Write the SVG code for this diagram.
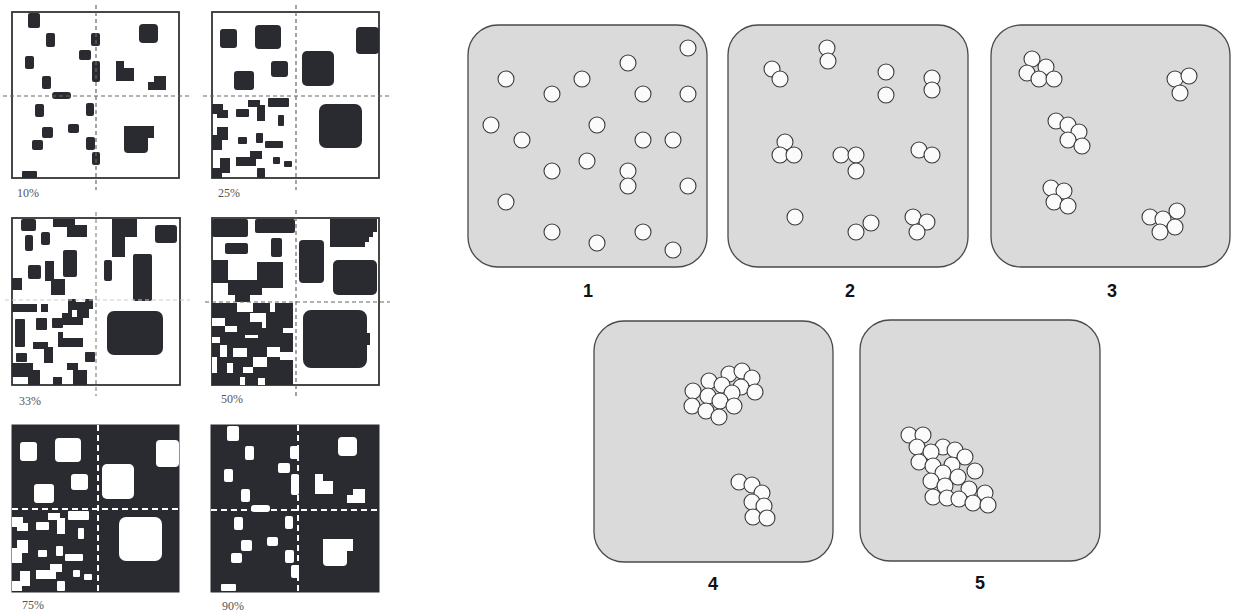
<svg xmlns="http://www.w3.org/2000/svg" width="1233" height="613" viewBox="0 0 1233 613">
<style>
.box{fill:#fff;stroke:#333;stroke-width:1.8}
.dbox{fill:#2a2b31;stroke:#2a2b31;stroke-width:1}
.dash{stroke:#666;stroke-width:1.2;stroke-dasharray:4 3;fill:none}
.wdash{stroke:#fff;stroke-width:2;stroke-dasharray:6 4;fill:none}
.pct{font-family:"Liberation Serif",serif;font-size:12px;fill:#555}
.p{fill:#dadada;stroke:#4a4a4a;stroke-width:1.3}
.c{fill:#fbfbfb;stroke:#3a3a3a;stroke-width:1.1}
.num{font-family:"Liberation Sans",Arial,sans-serif;font-weight:bold;font-size:18px;fill:#111;text-anchor:middle}
</style>
<defs>
<g id="s10">
<rect x="28" y="13" width="12" height="15" rx="2"/>
<rect x="46" y="33" width="9" height="14" rx="2"/>
<rect x="91" y="33" width="9" height="13" rx="2"/>
<rect x="139" y="24" width="19" height="19" rx="4"/>
<rect x="79" y="50" width="12" height="10" rx="2"/>
<rect x="25" y="56" width="9" height="13" rx="2"/>
<rect x="92" y="61" width="8" height="21" rx="2"/>
<path d="M116 61h8v7h10v13h-18z"/>
<rect x="42" y="76" width="9" height="13" rx="2"/>
<path d="M154 76h12v14h-18v-8h6z"/>
<rect x="52" y="92" width="19" height="7" rx="3"/>
<rect x="35" y="104" width="9" height="13" rx="2"/>
<rect x="86" y="103" width="8" height="13" rx="2"/>
<rect x="68" y="124" width="11" height="9" rx="2"/>
<rect x="42" y="127" width="11" height="11" rx="2"/>
<rect x="32" y="140" width="11" height="10" rx="2"/>
<rect x="86" y="137" width="9" height="13" rx="2"/>
<path d="M124 126h30v12h-6v11a4 4 0 0 1-4 4h-16a4 4 0 0 1-4-4z"/>
<rect x="92" y="152" width="8" height="13" rx="2"/>
<rect x="22" y="171" width="15" height="7" rx="1"/>
</g>
<g id="s25">
<rect x="220" y="29" width="17" height="19" rx="3"/>
<rect x="255" y="25" width="26" height="24" rx="4"/>
<rect x="356" y="27" width="23" height="27" rx="4"/>
<rect x="302" y="51" width="32" height="35" rx="5"/>
<rect x="271" y="61" width="17" height="16" rx="3"/>
<rect x="234" y="71" width="20" height="19" rx="3"/>
<rect x="319" y="104" width="43" height="44" rx="7"/>
<path d="M212 104h11v6h5v8h-11v-4h-5z"/>
<rect x="236" y="109" width="13" height="8" rx="1"/>
<path d="M248 100h12v5h5v16h-8v-14h-9z"/>
<rect x="268" y="98" width="21" height="9" rx="1"/>
<rect x="278" y="115" width="6" height="11" rx="1"/>
<path d="M217 127h11v13h-6v10h-10v-15h5z"/>
<rect x="238" y="137" width="9" height="7" rx="1"/>
<rect x="256" y="133" width="7" height="10" rx="1"/>
<rect x="265" y="141" width="18" height="7" rx="1"/>
<path d="M250 151h12v8h-6v7h-20v-9h14z"/>
<rect x="273" y="157" width="7" height="7" rx="1"/>
<rect x="284" y="161" width="8" height="6" rx="1"/>
<path d="M220 158h10v15h-8v5h-10v-10h8z"/>
<rect x="257" y="168" width="8" height="10" rx="1"/>
</g>
</defs>

<g id="panel-10">
<rect class="box" x="12" y="12" width="167" height="166"/>
<use href="#s10" fill="#2a2b31"/>
<line class="dash" x1="96" y1="5" x2="96" y2="190"/>
<line class="dash" x1="3" y1="96" x2="190" y2="96"/>
<text class="pct" x="17" y="197">10%</text>
</g>

<g id="panel-25">
<rect class="box" x="212" y="12" width="167" height="166"/>
<use href="#s25" fill="#2a2b31"/>
<line class="dash" x1="296" y1="5" x2="296" y2="190"/>
<line class="dash" x1="203" y1="96" x2="390" y2="96"/>
<text class="pct" x="218" y="197">25%</text>
</g>

<g id="panel-33">
<rect class="box" x="12" y="218" width="168" height="167"/>
<g fill="#2a2b31">
<rect x="21" y="219" width="15" height="12" rx="2"/>
<path d="M53 219h22v6h12v12h-20v-10h-14z"/>
<rect x="25" y="235" width="8" height="16" rx="2"/>
<rect x="41" y="232" width="9" height="13" rx="2"/>
<rect x="63" y="250" width="14" height="27" rx="2"/>
<rect x="28" y="265" width="13" height="14" rx="2"/>
<path d="M45 261h9v18h11v16h-14v-14h-6z"/>
<rect x="12" y="278" width="10" height="12"/>
<path d="M112 219h25v18h-12v20h-13z"/>
<rect x="155" y="225" width="22" height="18" rx="3"/>
<rect x="104" y="260" width="8" height="21" rx="2"/>
<rect x="133" y="254" width="19" height="47" rx="2"/>
<rect x="107" y="311" width="56" height="44" rx="7"/>
<rect x="12" y="304" width="25" height="8"/>
<rect x="41" y="304" width="7" height="8"/>
<rect x="15" y="319" width="10" height="28" rx="1"/>
<rect x="36" y="318" width="11" height="12" rx="1"/>
<rect x="52" y="318" width="11" height="10" rx="1"/>
<path d="M68 299h8v3h9v-3h8v10h-4v9h-6v7h-21v-12h6z"/>
<path d="M58 332h5v6h20v9h-25z"/>
<path d="M33 342h15v5h5v16h-9v-14h-11z"/>
<rect x="16" y="353" width="11" height="9" rx="1"/>
<rect x="85" y="352" width="10" height="10" rx="1"/>
<path d="M12 363h21v7h7v15h-12v-8h-16z"/>
<rect x="53" y="377" width="9" height="8"/>
<path d="M67 363h11v7h9v15h-14v-15h-6z"/>
</g>
<rect x="72" y="310" width="5" height="7" fill="#fff"/>
<line class="dash" x1="96" y1="212" x2="96" y2="396" style="stroke:#888"/>
<line class="dash" x1="5" y1="300" x2="190" y2="300" style="stroke:#ccc"/>
<text class="pct" x="19" y="405">33%</text>
</g>

<g id="panel-50">
<rect class="box" x="212" y="218" width="167" height="167"/>
<g fill="#2a2b31">
<rect x="212" y="219" width="36" height="18" rx="2"/>
<rect x="255" y="219" width="40" height="14" rx="2"/>
<path d="M330 219h47v13h-4v5h-4v5h-4v5h-35z"/>
<rect x="225" y="243" width="23" height="11" rx="2"/>
<rect x="271" y="238" width="11" height="19" rx="2"/>
<rect x="299" y="240" width="25" height="43" rx="4"/>
<rect x="333" y="260" width="44" height="35" rx="5"/>
<path d="M212 260h16v20h29v-18h26v26h-21v7h-12v7h-15v-7h-7v-12h-16z"/>
<path d="M303 318a8 8 0 0 1 8-8h48a8 8 0 0 1 8 8v15h3v12h-3v15a8 8 0 0 1-8 8h-48a8 8 0 0 1-8-8z"/>
<rect x="212" y="303" width="81" height="82"/>
</g>
<g fill="#fff">
<rect x="237" y="303" width="16" height="9"/>
<rect x="270" y="303" width="5" height="9"/>
<rect x="212" y="318" width="13" height="8"/>
<rect x="225" y="326" width="12" height="6"/>
<rect x="250" y="313" width="16" height="9"/>
<rect x="262" y="322" width="4" height="6"/>
<rect x="245" y="335" width="13" height="3"/>
<rect x="212" y="337" width="8" height="6"/>
<rect x="220" y="345" width="7" height="12"/>
<rect x="233" y="348" width="14" height="9"/>
<rect x="253" y="357" width="14" height="10"/>
<rect x="267" y="347" width="13" height="10"/>
<rect x="280" y="352" width="13" height="8"/>
<rect x="212" y="357" width="5" height="16"/>
<rect x="227" y="363" width="6" height="10"/>
<rect x="240" y="377" width="5" height="8"/>
<rect x="258" y="378" width="7" height="7"/>
<rect x="243" y="367" width="10" height="6"/>
<rect x="283" y="328" width="10" height="5"/>
</g>
<line class="dash" x1="296" y1="210" x2="296" y2="396"/>
<line class="dash" x1="205" y1="302" x2="390" y2="302"/>
<text class="pct" x="221" y="403">50%</text>
</g>

<g id="panel-75">
<rect class="dbox" x="12" y="425" width="167" height="167"/>
<use href="#s25" fill="#fff" transform="translate(-200,413)"/>
<line class="wdash" x1="98" y1="425" x2="98" y2="592"/>
<line class="wdash" x1="12" y1="509" x2="179" y2="509"/>
<text class="pct" x="22" y="609">75%</text>
</g>

<g id="panel-90">
<rect class="dbox" x="211" y="425" width="168" height="167"/>
<use href="#s10" fill="#fff" transform="translate(199,413)"/>
<line class="wdash" x1="298" y1="425" x2="298" y2="592"/>
<line class="wdash" x1="211" y1="510" x2="379" y2="510"/>
<text class="pct" x="222" y="610">90%</text>
</g>

<g id="stage-1">
<rect class="p" x="468" y="25" width="239" height="242" rx="30"/>
<circle class="c" cx="688" cy="48" r="8"/><circle class="c" cx="628" cy="63" r="8"/>
<circle class="c" cx="506" cy="79" r="8"/><circle class="c" cx="582" cy="79" r="8"/>
<circle class="c" cx="552" cy="94" r="8"/><circle class="c" cx="643" cy="94" r="8"/>
<circle class="c" cx="688" cy="94" r="8"/><circle class="c" cx="491" cy="125" r="8"/>
<circle class="c" cx="597" cy="125" r="8"/><circle class="c" cx="522" cy="140" r="8"/>
<circle class="c" cx="643" cy="140" r="8"/><circle class="c" cx="673" cy="140" r="8"/>
<circle class="c" cx="587" cy="161" r="8"/><circle class="c" cx="552" cy="171" r="8"/>
<circle class="c" cx="628" cy="171" r="8"/><circle class="c" cx="628" cy="186" r="8"/>
<circle class="c" cx="688" cy="186" r="8"/><circle class="c" cx="506" cy="202" r="8"/>
<circle class="c" cx="552" cy="232" r="8"/><circle class="c" cx="643" cy="232" r="8"/>
<circle class="c" cx="597" cy="243" r="8"/><circle class="c" cx="673" cy="250" r="8"/>
<text class="num" x="588" y="297">1</text>
</g>

<g id="stage-2">
<rect class="p" x="728" y="25" width="240" height="242" rx="30"/>
<circle class="c" cx="772" cy="69" r="8"/><circle class="c" cx="780" cy="79" r="8"/>
<circle class="c" cx="827" cy="48" r="8"/><circle class="c" cx="828" cy="61" r="8"/>
<circle class="c" cx="886" cy="72" r="8"/><circle class="c" cx="886" cy="95" r="8"/>
<circle class="c" cx="932" cy="78" r="8"/><circle class="c" cx="932" cy="90" r="8"/>
<circle class="c" cx="785" cy="142" r="8"/><circle class="c" cx="780" cy="155" r="8"/>
<circle class="c" cx="794" cy="155" r="8"/><circle class="c" cx="841" cy="155" r="8"/>
<circle class="c" cx="856" cy="155" r="8"/><circle class="c" cx="856" cy="171" r="8"/>
<circle class="c" cx="919" cy="150" r="8"/><circle class="c" cx="932" cy="155" r="8"/>
<circle class="c" cx="795" cy="217" r="8"/><circle class="c" cx="871" cy="223" r="8"/>
<circle class="c" cx="856" cy="232" r="8"/><circle class="c" cx="913" cy="217" r="8"/>
<circle class="c" cx="927" cy="222" r="8"/><circle class="c" cx="917" cy="232" r="8"/>
<text class="num" x="850" y="297">2</text>
</g>

<g id="stage-3">
<rect class="p" x="991" y="25" width="239" height="242" rx="30"/>
<circle class="c" cx="1032" cy="59" r="8"/><circle class="c" cx="1046" cy="67" r="8"/>
<circle class="c" cx="1027" cy="73" r="8"/><circle class="c" cx="1039" cy="79" r="8"/>
<circle class="c" cx="1054" cy="79" r="8"/><circle class="c" cx="1175" cy="79" r="8"/>
<circle class="c" cx="1189" cy="76" r="8"/><circle class="c" cx="1180" cy="93" r="8"/>
<circle class="c" cx="1056" cy="121" r="8"/><circle class="c" cx="1068" cy="125" r="8"/>
<circle class="c" cx="1079" cy="132" r="8"/><circle class="c" cx="1068" cy="140" r="8"/>
<circle class="c" cx="1082" cy="146" r="8"/><circle class="c" cx="1051" cy="188" r="8"/>
<circle class="c" cx="1064" cy="191" r="8"/><circle class="c" cx="1054" cy="202" r="8"/>
<circle class="c" cx="1068" cy="206" r="8"/><circle class="c" cx="1150" cy="217" r="8"/>
<circle class="c" cx="1163" cy="219" r="8"/><circle class="c" cx="1177" cy="211" r="8"/>
<circle class="c" cx="1175" cy="227" r="8"/><circle class="c" cx="1160" cy="232" r="8"/>
<text class="num" x="1112" y="297">3</text>
</g>

<g id="stage-4">
<rect class="p" x="594" y="321" width="239" height="241" rx="30"/>
<circle class="c" cx="729" cy="374" r="8"/><circle class="c" cx="742" cy="371" r="8"/>
<circle class="c" cx="752" cy="378" r="8"/><circle class="c" cx="709" cy="381" r="8"/>
<circle class="c" cx="722" cy="385" r="8"/><circle class="c" cx="741" cy="387" r="8"/>
<circle class="c" cx="755" cy="392" r="8"/><circle class="c" cx="693" cy="391" r="8"/>
<circle class="c" cx="708" cy="396" r="8"/><circle class="c" cx="732" cy="393" r="8"/>
<circle class="c" cx="720" cy="401" r="8"/><circle class="c" cx="692" cy="406" r="8"/>
<circle class="c" cx="734" cy="406" r="8"/><circle class="c" cx="706" cy="411" r="8"/>
<circle class="c" cx="719" cy="417" r="8"/>
<circle class="c" cx="739" cy="482" r="8"/><circle class="c" cx="752" cy="485" r="8"/>
<circle class="c" cx="762" cy="493" r="8"/><circle class="c" cx="752" cy="502" r="8"/>
<circle class="c" cx="764" cy="506" r="8"/><circle class="c" cx="753" cy="517" r="8"/>
<circle class="c" cx="767" cy="518" r="8"/>
<text class="num" x="713" y="590">4</text>
</g>

<g id="stage-5">
<rect class="p" x="860" y="320" width="240" height="241" rx="30"/>
<circle class="c" cx="909" cy="435" r="8"/><circle class="c" cx="923" cy="435" r="8"/>
<circle class="c" cx="917" cy="447" r="8"/><circle class="c" cx="943" cy="447" r="8"/>
<circle class="c" cx="955" cy="450" r="8"/><circle class="c" cx="931" cy="452" r="8"/>
<circle class="c" cx="965" cy="457" r="8"/><circle class="c" cx="919" cy="462" r="8"/>
<circle class="c" cx="952" cy="465" r="8"/><circle class="c" cx="933" cy="466" r="8"/>
<circle class="c" cx="975" cy="471" r="8"/><circle class="c" cx="943" cy="473" r="8"/>
<circle class="c" cx="958" cy="477" r="8"/><circle class="c" cx="931" cy="481" r="8"/>
<circle class="c" cx="945" cy="486" r="8"/><circle class="c" cx="969" cy="489" r="8"/>
<circle class="c" cx="985" cy="493" r="8"/><circle class="c" cx="933" cy="497" r="8"/>
<circle class="c" cx="947" cy="498" r="8"/><circle class="c" cx="959" cy="499" r="8"/>
<circle class="c" cx="973" cy="503" r="8"/><circle class="c" cx="988" cy="505" r="8"/>
<text class="num" x="980" y="589">5</text>
</g>
</svg>
